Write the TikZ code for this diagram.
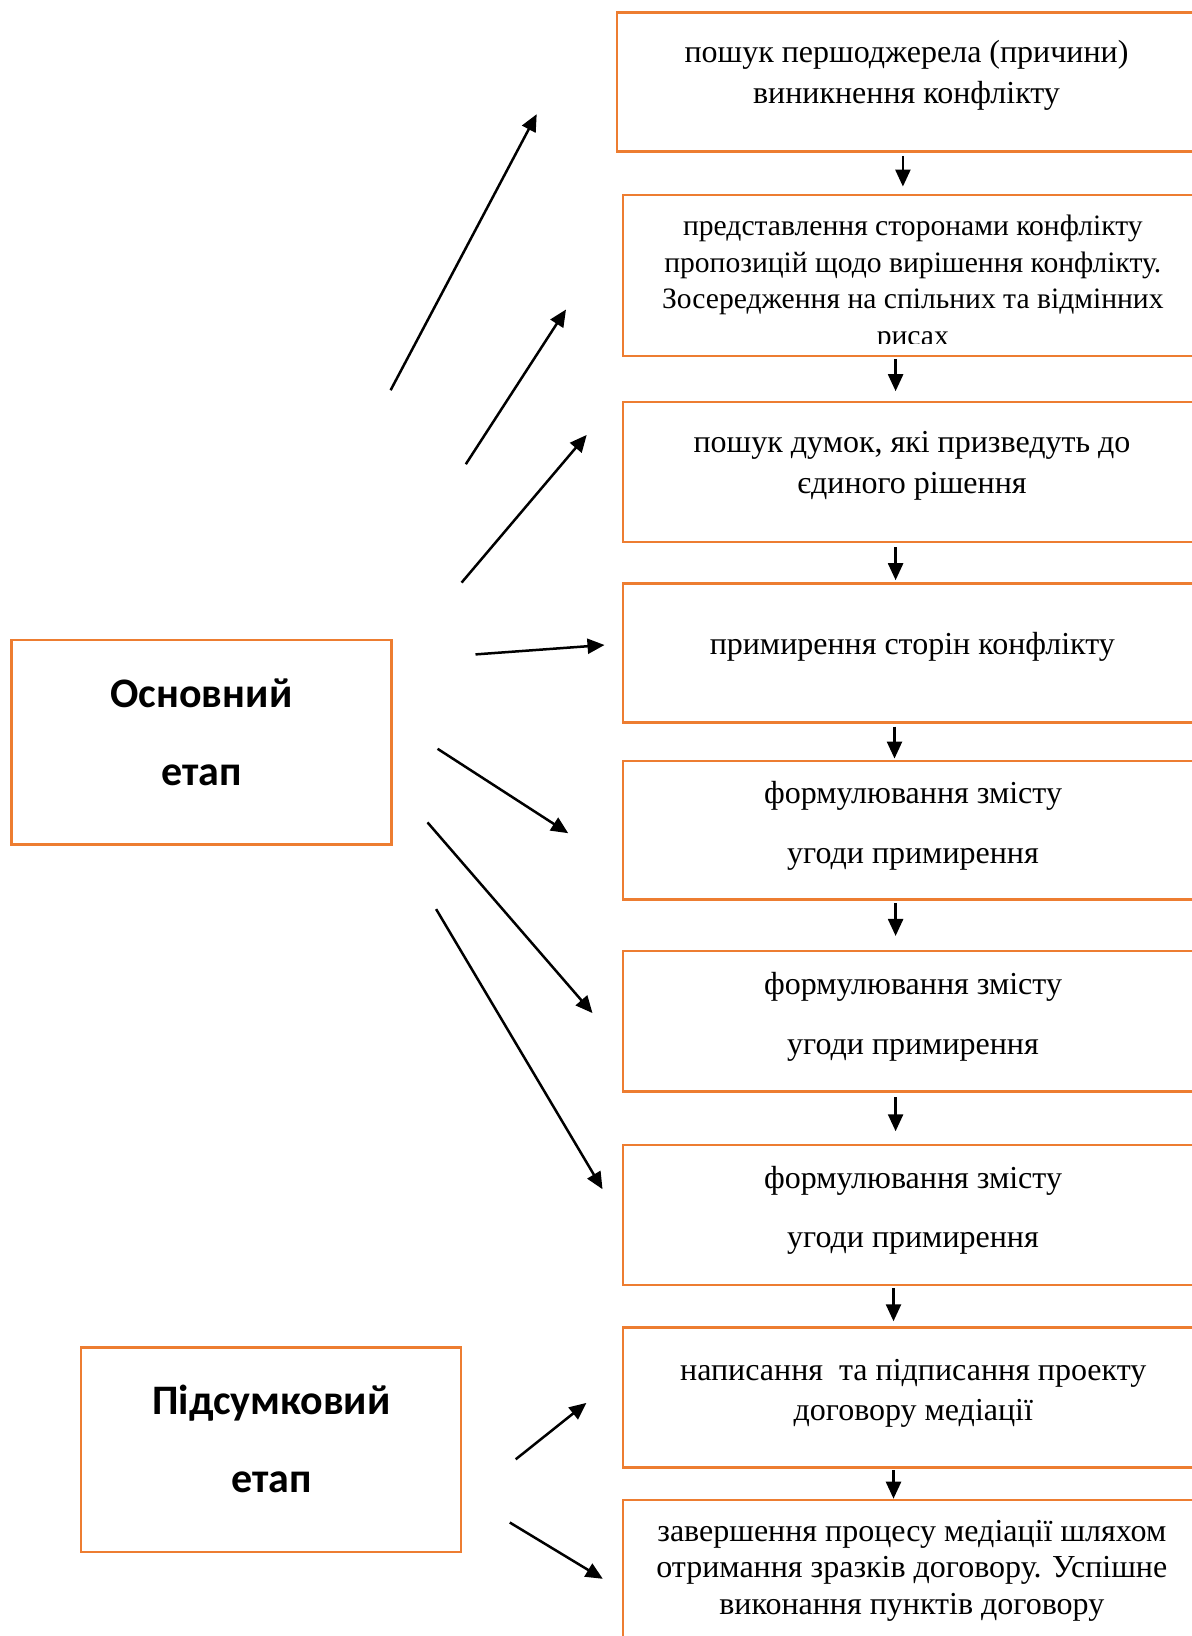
\documentclass[tikz,border=0pt]{standalone}
\usepackage{fontspec}
\setmainfont{Liberation Serif}
\newfontfamily\calibfont{Carlito}
\usetikzlibrary{arrows.meta}
\definecolor{boxorange}{HTML}{ED7D31}
\tikzset{
  stepbox/.style={draw=boxorange, line width=1.3pt, rectangle, inner sep=0pt, minimum width=289.5pt},
  stagebox/.style={draw=boxorange, line width=1.3pt, rectangle, inner sep=0pt, minimum width=190pt, minimum height=102.3pt},
  txt/.style={align=center, inner sep=0pt, text=black},
  stagetxt/.style={align=center, inner sep=0pt, text=black, font=\calibfont\bfseries\fontsize{21}{39}\selectfont},
  arr/.style={line width=1.25pt, -{Triangle[length=8.5pt,width=7.5pt]}},
  gaps/.style 2 args={shorten <=#1, shorten >=#2},
}
\begin{document}
\begin{tikzpicture}[x=0.5pt, y=-0.5pt]
\useasboundingbox (0,0) rectangle (1192,1636);
\clip (0,0) rectangle (1192,1636);

% right-hand step boxes
\node[stepbox, minimum height=69.5pt]  (b1) at (906.5,82) {};
\node[stepbox, minimum height=80.35pt] (b2) at (912.5,275.5) {};
\node[stepbox, minimum height=70pt]    (b3) at (912.5,472) {};
\node[stepbox, minimum height=69.4pt]  (b4) at (912.5,652.9) {};
\node[stepbox, minimum height=69.45pt] (b5) at (912.5,830.3) {};
\node[stepbox, minimum height=70.45pt] (b6) at (912.5,1021.3) {};
\node[stepbox, minimum height=69.95pt] (b7) at (912.5,1215) {};
\node[stepbox, minimum height=69.75pt] (b8) at (912.5,1397.5) {};
\node[stepbox, minimum height=70pt]    (b9) at (912.5,1570) {};

% texts of the step boxes
\node[txt, font=\fontsize{16}{20.35}\selectfont] (t1) at (906.5,75.6)
  {пошук першоджерела (причини)\\виникнення конфлікту};
\begin{scope}
  \clip (623,195.2) rectangle (1202,343.3);
  \node[txt, font=\fontsize{14.8}{18.25}\selectfont] (t2) at (912.8,283.2)
    {представлення сторонами конфлікту\\пропозицій щодо вирішення конфлікту.\\Зосередження на спільних та відмінних\\рисах};
\end{scope}
\node[txt, font=\fontsize{16}{20.35}\selectfont] (t3) at (912,466)
  {пошук думок, які призведуть до\\єдиного рішення};
\node[txt, font=\fontsize{16}{20.35}\selectfont] (t4) at (912.3,646.5)
  {примирення сторін конфлікту};
\node[txt, font=\fontsize{16}{29.75}\selectfont] (t5) at (913,826)
  {формулювання змісту\\угоди примирення};
\node[txt, font=\fontsize{16}{29.75}\selectfont] (t6) at (913,1017)
  {формулювання змісту\\угоди примирення};
\node[txt, font=\fontsize{16}{29.75}\selectfont] (t7) at (913,1210.2)
  {формулювання змісту\\угоди примирення};
\node[txt, font=\fontsize{16}{19.85}\selectfont] (t8) at (913.3,1393)
  {написання\ \ та підписання проекту\\договору медіації};
\node[txt, font=\fontsize{16}{18.25}\selectfont] (t9) at (911.8,1570.5)
  {завершення процесу медіації шляхом\\отримання зразків договору. Успішне\\виконання пунктів договору};

% stage boxes
\node[stagebox] (L1) at (201.5,742.1) {};
\node[stagetxt] (l1) at (201.5,732.2) {Основний\\етап};
\node[stagebox] (L2) at (270.9,1449.8) {};
\node[stagetxt] (l2) at (271.4,1439.4) {Підсумковий\\етап};

% vertical arrows between steps
\coordinate (xa) at (902.9,0);
\coordinate (xb) at (895.6,0);
\coordinate (xc) at (894.5,0);
\coordinate (xd) at (893.5,0);
\draw[arr, gaps={1.55pt}{3.65pt}] (b1.south -| xa) -- (b2.north -| xa);
\draw[arr, gaps={1pt}{4.75pt}]    (b2.south -| xb) -- (b3.north -| xb);
\draw[arr, gaps={2pt}{1pt}]       (b3.south -| xb) -- (b4.north -| xb);
\draw[arr, gaps={1.5pt}{0.5pt}]   (b4.south -| xc) -- (b5.north -| xc);
\draw[arr, gaps={1pt}{6.8pt}]     (b5.south -| xb) -- (b6.north -| xb);
\draw[arr, gaps={2.1pt}{6.25pt}]  (b6.south -| xb) -- (b7.north -| xb);
\draw[arr, gaps={1pt}{2.6pt}]     (b7.south -| xd) -- (b8.north -| xd);
\draw[arr, gaps={0.75pt}{0pt}]    (b8.south -| xd) -- (b9.north -| xd);

% free diagonal arrows
\coordinate (s1) at (390.6,390.2);  \coordinate (e1) at (536.7,114.2);
\coordinate (s2) at (465.8,464.2);  \coordinate (e2) at (566,309.5);
\coordinate (s3) at (461.6,582.6);  \coordinate (e3) at (586.7,434.9);
\coordinate (s4) at (475.5,654.4);  \coordinate (e4) at (604.5,645);
\coordinate (s5) at (437.6,748.8);  \coordinate (e5) at (568.2,833.2);
\coordinate (s6) at (427.5,822.4);  \coordinate (e6) at (592.5,1013.1);
\coordinate (s7) at (436.1,909.1);  \coordinate (e7) at (602.5,1189.2);
\coordinate (s8) at (515.7,1459.3); \coordinate (e8) at (586.4,1402.9);
\coordinate (s9) at (509.8,1522.5); \coordinate (e9) at (602.8,1578.8);
\foreach \i in {1,...,9} { \draw[arr] (s\i) -- (e\i); }
\end{tikzpicture}
\end{document}
